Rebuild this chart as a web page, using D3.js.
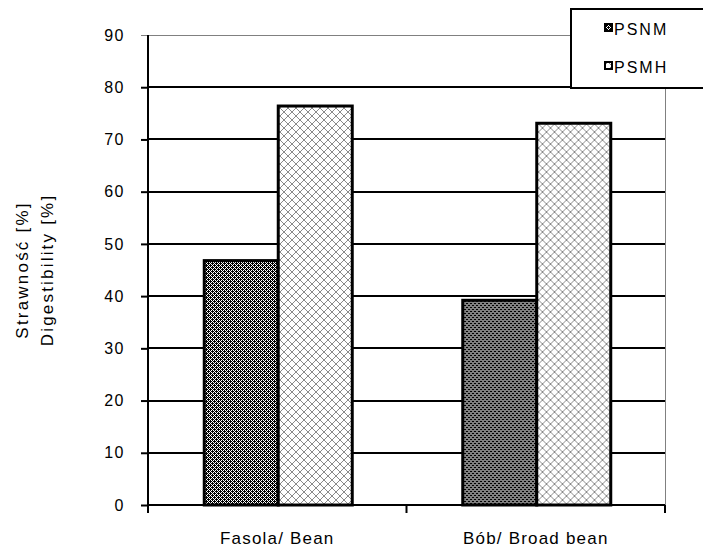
<!DOCTYPE html>
<html>
<head>
<meta charset="utf-8">
<script src="https://cdn.jsdelivr.net/npm/d3@7/dist/d3.min.js"></script>
<style>
  html, body { margin: 0; padding: 0; background: #fff; }
  svg { display: block; }
  text { font-family: "Liberation Sans", Arial, sans-serif; fill: #000; }
</style>
</head>
<body>
<svg id="chart" width="703" height="550"></svg>
<script>
const categories = ["Fasola/ Bean", "Bób/ Broad bean"];
const seriesNames = ["PSNM", "PSMH"];
const psnmValues = [46.8, 39.2];
const psmhValues = [76.4, 73.1];
const yTicks = [0, 10, 20, 30, 40, 50, 60, 70, 80, 90];
const yTitleLines = ["Strawność [%]", "Digestibility [%]"];

const svg = d3.select("#chart");
const plot = { left: 148, right: 665, top: 35, bottom: 505 };

const data = categories.map((c, i) => ({ cat: c, values: [
  { key: seriesNames[0], v: psnmValues[i] },
  { key: seriesNames[1], v: psmhValues[i] }
]}));

const x = d3.scaleBand().domain(categories).range([plot.left, plot.right]).paddingInner(0).paddingOuter(0);
const bw = x.bandwidth();
const xs = d3.scaleBand().domain(seriesNames).range([bw / 2 - 73, bw / 2 + 75]).padding(0);
const y = d3.scaleLinear().domain([0, 90]).range([plot.bottom, plot.top]);

// patterns
const defs = svg.append("defs");
const p1 = defs.append("pattern").attr("id", "pat-psnm").attr("patternUnits", "userSpaceOnUse")
  .attr("width", 4).attr("height", 4);
p1.append("rect").attr("width", 4).attr("height", 4).attr("fill", "#fff");
const bm1 = ["1010", "0111", "1010", "1101"];
bm1.forEach((row, r) => row.split("").forEach((ch, c) => {
  if (ch === "1") p1.append("rect").attr("x", c).attr("y", r).attr("width", 1).attr("height", 1).attr("fill", "#000").attr("shape-rendering", "crispEdges");
}));
const p2 = defs.append("pattern").attr("id", "pat-psmh").attr("patternUnits", "userSpaceOnUse")
  .attr("width", 8).attr("height", 8);
p2.append("rect").attr("width", 8).attr("height", 8).attr("fill", "#fff");
for (let r = 0; r < 8; r++) for (let c = 0; c < 8; c++) {
  if (r === c || r + c === 7) p2.append("rect").attr("x", c).attr("y", r).attr("width", 1).attr("height", 1).attr("fill", "#8a8a8a").attr("shape-rendering", "crispEdges");
}
const patOf = k => k === "PSNM" ? "url(#pat-psnm)" : "url(#pat-psmh)";

// gridlines
const g = svg.append("g");
g.selectAll("line.grid").data(yTicks.filter(t => t > 0 && t < 90)).join("line")
  .attr("x1", plot.left).attr("x2", plot.right)
  .attr("y1", d => y(d)).attr("y2", d => y(d))
  .attr("stroke", "#000").attr("stroke-width", 2).attr("shape-rendering", "crispEdges");
g.append("line").attr("x1", plot.left).attr("x2", plot.right).attr("y1", y(90)).attr("y2", y(90))
  .attr("stroke", "#808080").attr("stroke-width", 1).attr("shape-rendering", "crispEdges");
g.append("line").attr("x1", plot.right).attr("x2", plot.right).attr("y1", y(90)).attr("y2", y(0))
  .attr("stroke", "#808080").attr("stroke-width", 1).attr("shape-rendering", "crispEdges");

// bars
const groups = svg.append("g").selectAll("g").data(data).join("g")
  .attr("transform", d => `translate(${x(d.cat)},0)`);
groups.selectAll("rect").data(d => d.values).join("rect")
  .attr("x", d => xs(d.key))
  .attr("y", d => y(d.v))
  .attr("width", xs.bandwidth())
  .attr("height", d => y(0) - y(d.v))
  .attr("fill", d => patOf(d.key))
  .attr("stroke", "#000").attr("stroke-width", 3);

// y axis
const yAxis = d3.axisLeft(y).tickValues(yTicks).tickSize(7).tickPadding(0).tickFormat(d3.format("d"));
const ya = svg.append("g").attr("transform", `translate(${plot.left},0)`).call(yAxis);
ya.select(".domain").remove();
ya.selectAll(".tick line").attr("stroke", d => d === 90 ? "#808080" : "#000").attr("stroke-width", d => d === 90 ? 1 : 2);
ya.selectAll(".tick text").attr("x", -23).attr("font-size", 16).attr("letter-spacing", 1.5)
  .attr("font-family", "'Liberation Sans', Arial, sans-serif").attr("fill", "#000");
svg.append("line").attr("x1", plot.left).attr("x2", plot.left).attr("y1", plot.top).attr("y2", plot.bottom + 7)
  .attr("stroke", "#000").attr("stroke-width", 2);

// x axis
svg.append("line").attr("x1", plot.left).attr("x2", plot.right).attr("y1", plot.bottom).attr("y2", plot.bottom)
  .attr("stroke", "#000").attr("stroke-width", 2);
const bounds = categories.map(c => x(c)).concat([x(categories[categories.length - 1]) + bw]);
svg.selectAll("line.xt").data(bounds).join("line")
  .attr("x1", d => d).attr("x2", d => d).attr("y1", plot.bottom).attr("y2", plot.bottom + 8)
  .attr("stroke", "#000").attr("stroke-width", 2);
svg.selectAll("text.xl").data(categories).join("text")
  .attr("x", d => x(d) + bw / 2).attr("y", 544)
  .attr("text-anchor", "middle").attr("font-size", 17).attr("letter-spacing", 1.2)
  .text(d => d);

// y title
const yt = svg.append("text").attr("transform", "translate(0,270) rotate(-90)")
  .attr("text-anchor", "middle").attr("font-size", 17).attr("letter-spacing", 2.2);
yt.append("tspan").attr("x", 0).attr("y", 28).text(yTitleLines[0]);
yt.append("tspan").attr("x", 0).attr("y", 53).text(yTitleLines[1]);

// legend
const lg = svg.append("g");
lg.append("rect").attr("x", 571).attr("y", 9).attr("width", 140).attr("height", 79)
  .attr("fill", "#fff").attr("stroke", "#000").attr("stroke-width", 2);
const li = lg.selectAll("g.li").data(seriesNames).join("g")
  .attr("transform", (d, i) => `translate(0,${i * 38})`);
li.append("rect").attr("x", 605).attr("y", 24).attr("width", 7).attr("height", 7)
  .attr("fill", d => patOf(d)).attr("stroke", "#000").attr("stroke-width", 2);
li.append("text").attr("x", 614).attr("y", 35).attr("font-size", 16).attr("letter-spacing", 2)
  .text(d => d);
</script>
</body>
</html>
